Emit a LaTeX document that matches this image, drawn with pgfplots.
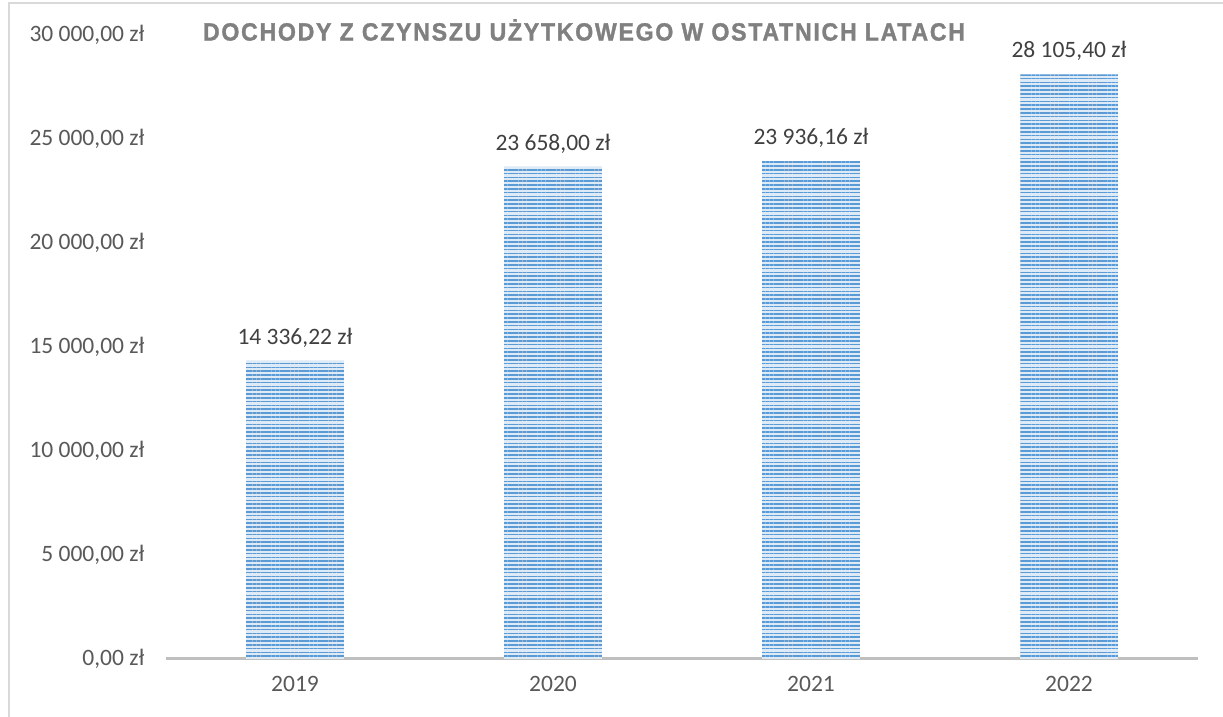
\documentclass[border=0pt]{standalone}
\usepackage{pgfplots}
\pgfplotsset{compat=1.18}
\usetikzlibrary{patterns.meta}
\usepackage{fontspec}
\setmainfont{Carlito}
\newfontfamily\titlefont[FakeStretch=0.8,LetterSpace=6,FakeBold=1.2]{Liberation Sans}
\definecolor{barblue}{RGB}{91,155,213}
\definecolor{barlight}{RGB}{222,235,247}
\definecolor{ticktxt}{RGB}{89,89,89}
\definecolor{valtxt}{RGB}{64,64,64}
\definecolor{axgray}{RGB}{191,191,191}
\definecolor{framegray}{RGB}{217,217,217}
\definecolor{titlegray}{RGB}{128,128,128}
\begin{document}
\begin{tikzpicture}[x=1pt,y=1pt]
\useasboundingbox (0,0) rectangle (1223,717);
\draw[framegray, line width=2pt] (9,0) -- (9,713.5) -- (1223,713.5);
\begin{axis}[
  at={(166pt,58pt)}, anchor=south west,
  scale only axis, width=1032pt, height=624pt,
  xmin=-0.5, xmax=3.5, ymin=0, ymax=30000,
  scaled y ticks=false,
  axis x line=bottom, axis y line=left,
  y axis line style={draw=none},
  x axis line style={draw=axgray, line width=3pt, -},
  major tick length=0pt,
  xtick={0,1,2,3}, xticklabels={2019,2020,2021,2022},
  ytick={0,5000,10000,15000,20000,25000,30000},
  yticklabels={{0,00 zł},{5 000,00 zł},{10 000,00 zł},{15 000,00 zł},{20 000,00 zł},{25 000,00 zł},{30 000,00 zł}},
  tick label style={font=\fontsize{23.5}{27}\selectfont, text=ticktxt},
  xticklabel style={yshift=-14pt},
  yticklabel style={xshift=-18pt},
  ybar, bar width=97.6pt,
  point meta=explicit symbolic,
  nodes near coords,
  nodes near coords style={font=\fontsize{23.5}{27}\selectfont, text=valtxt, anchor=south, yshift=10pt},
  clip=false,
]
\addplot[draw=none, preaction={fill=barlight}, pattern={Lines[angle=0,distance=3.8pt,line width=1.6pt]}, pattern color=barblue]
 coordinates {(0,14336.22) [14 336,22 zł] (1,23658.00) [23 658,00 zł] (2,23936.16) [23 936,16 zł] (3,28105.40) [28 105,40 zł]};
\end{axis}
\node[inner sep=0pt, font=\titlefont\bfseries\fontsize{25}{28}\selectfont, text=titlegray] at (584,687) {\resizebox{762pt}{\height}{DOCHODY Z CZYNSZU UŻYTKOWEGO W OSTATNICH LATACH}};
\end{tikzpicture}
\end{document}
